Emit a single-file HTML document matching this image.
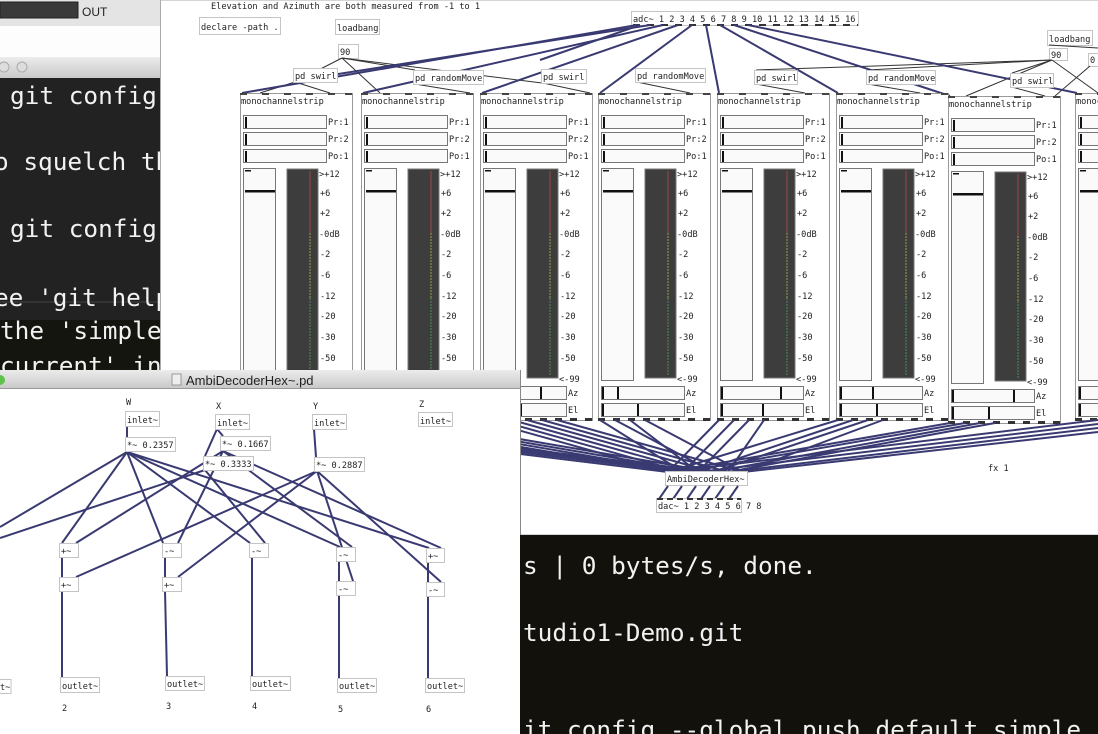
<!DOCTYPE html>
<html><head><meta charset="utf-8"><style>
html,body{margin:0;padding:0;background:#fff;}
svg{display:block}
.pd{font-family:"DejaVu Sans Mono","Liberation Mono",monospace;font-size:8.6px;fill:#222}
.term{font-family:"DejaVu Sans Mono","Liberation Mono",monospace;font-size:24.4px;fill:#f2f2f2}
.bx{fill:#fff;stroke:#c4c4c4;stroke-width:1}
.c{stroke:#3a3a72;stroke-width:2;fill:none}
.t{stroke:#333;stroke-width:1;fill:none}
</style></head><body>
<svg width="1098" height="734" viewBox="0 0 1098 734" xmlns="http://www.w3.org/2000/svg">
<defs>
<linearGradient id="tb" x1="0" y1="0" x2="0" y2="1"><stop offset="0" stop-color="#ececec"/><stop offset="1" stop-color="#c9c9c9"/></linearGradient>
<g id="sb">
<rect x="3.5" y="22.5" width="83" height="13" fill="#fafafa" stroke="#777"/>
<rect x="3.5" y="39.5" width="83" height="13" fill="#fafafa" stroke="#777"/>
<rect x="3.5" y="56.5" width="83" height="13" fill="#fafafa" stroke="#777"/>
<rect x="5" y="24" width="2" height="11" fill="#111"/><rect x="5" y="41" width="2" height="11" fill="#111"/><rect x="5" y="58" width="2" height="11" fill="#111"/>
<rect x="3.5" y="75.5" width="32" height="212" fill="#fafafa" stroke="#777"/>
<rect x="5" y="77" width="6" height="1.5" fill="#111"/>
<rect x="5" y="97" width="30" height="2.5" fill="#111"/>
<rect x="47" y="76" width="31" height="209" fill="#3d3d3d" stroke="#777"/>
<line x1="70" y1="78" x2="70" y2="140" stroke="#a04848" stroke-width="1"/>
<line x1="70" y1="140" x2="70" y2="205" stroke="#a09a48" stroke-width="1" stroke-dasharray="2,1"/>
<line x1="70" y1="205" x2="70" y2="283" stroke="#48905a" stroke-width="1" stroke-dasharray="2,1"/>
<rect x="3.5" y="293.5" width="83" height="13" fill="#fafafa" stroke="#777"/>
<rect x="3.5" y="310.5" width="83" height="13" fill="#fafafa" stroke="#777"/>
<rect x="4" y="294" width="2" height="12" fill="#111"/><rect x="4" y="311" width="2" height="12" fill="#111"/>
<g fill="#444"><rect x="0" y="0" width="7" height="2"/><rect x="22" y="0" width="7" height="2"/><rect x="44" y="0" width="7" height="2"/><rect x="66" y="0" width="7" height="2"/><rect x="88" y="0" width="7" height="2"/><rect x="105" y="0" width="7" height="2"/></g>
<g fill="#333"><rect x="0" y="325" width="7" height="3"/><rect x="15" y="325" width="7" height="3"/><rect x="30" y="325" width="7" height="3"/><rect x="45" y="325" width="7" height="3"/><rect x="60" y="325" width="7" height="3"/><rect x="75" y="325" width="7" height="3"/><rect x="90" y="325" width="7" height="3"/><rect x="105" y="325" width="7" height="3"/></g>
</g>
</defs>

<rect x="0" y="0" width="161" height="26" fill="#e4e4e4"/>
<rect x="0" y="2" width="78" height="16" fill="#3a3a3a" stroke="#222"/>
<text x="82" y="16" font-family="Liberation Sans,sans-serif" font-size="12" fill="#222">OUT</text>
<rect x="0" y="26" width="161" height="31" fill="#fdfdfd"/>
<rect x="0" y="57" width="161" height="21" fill="url(#tb)"/>
<circle cx="4" cy="67" r="5" fill="#ddd" stroke="#aaa"/><circle cx="22" cy="67" r="5" fill="#ddd" stroke="#aaa"/>
<rect x="0" y="78" width="161" height="292" fill="#222"/>
<rect x="0" y="320" width="161" height="50" fill="#151510"/>
<line x1="0" y1="302" x2="161" y2="302" stroke="#444"/>
<text class="term" x="10" y="104">git config</text>
<text class="term" x="-6" y="170">o squelch th</text>
<text class="term" x="10" y="237">git config</text>
<text class="term" x="-6" y="306">ee 'git help</text>
<text class="term" x="0" y="339">the 'simple</text>
<text class="term" x="0" y="374">current' ins</text>

<rect x="160.5" y="0" width="938" height="535" fill="#fff" stroke="#aaa"/>
<text class="pd" x="211" y="9">Elevation and Azimuth are both measured from -1 to 1</text>
<rect class="bx" x="199.5" y="17.5" width="81" height="17"/><text class="pd" x="201" y="30">declare -path .</text>
<rect class="bx" x="335.5" y="19.5" width="44" height="15"/><text class="pd" x="337" y="31">loadbang</text>
<rect class="bx" x="338.5" y="44.5" width="20" height="14"/><text class="pd" x="340" y="55">90</text>
<rect class="bx" x="631.5" y="11.5" width="227" height="14"/><text class="pd" x="633" y="22">adc~ 1 2 3 4 5 6 7 8 9 10 11 12 13 14 15 16</text>
<line x1="633" y1="25" x2="858" y2="25" stroke="#333" stroke-width="2" stroke-dasharray="7,7"/>
<rect class="bx" x="1047.5" y="30.5" width="45" height="15"/><text class="pd" x="1049" y="42">loadbang</text>
<rect class="bx" x="1049.5" y="48.5" width="18" height="12"/><text class="pd" x="1051" y="58">90</text>
<rect class="bx" x="1088.5" y="53.5" width="12" height="13"/><text class="pd" x="1090" y="63">0</text>

<g class="t">
<line x1="342" y1="58" x2="295" y2="82"/><line x1="342" y1="58" x2="380" y2="93"/><line x1="342" y1="58" x2="415" y2="70"/><line x1="342" y1="58" x2="542" y2="83"/>
<line x1="295" y1="82" x2="260" y2="93"/><line x1="295" y1="82" x2="330" y2="93"/>
<line x1="415" y1="84" x2="470" y2="93"/><line x1="543" y1="83" x2="590" y2="93"/>
<line x1="637" y1="82" x2="690" y2="93"/><line x1="756" y1="84" x2="805" y2="93"/>
<line x1="868" y1="84" x2="920" y2="93"/><line x1="1012" y1="87" x2="1045" y2="96"/>
<line x1="1052" y1="60" x2="1012" y2="73"/><line x1="1052" y1="60" x2="868" y2="70"/><line x1="1052" y1="60" x2="756" y2="70"/><line x1="1052" y1="60" x2="966" y2="96"/><line x1="1052" y1="60" x2="1098" y2="93"/>
<line x1="1090" y1="66" x2="1055" y2="96"/><line x1="1049" y1="45" x2="1098" y2="48"/>
</g>
<g class="c">
<line x1="637" y1="25" x2="242" y2="93"/><line x1="650" y1="25" x2="300" y2="80"/>
<line x1="663" y1="25" x2="363" y2="93"/><line x1="678" y1="25" x2="482" y2="93"/>
<line x1="692" y1="25" x2="600" y2="93"/><line x1="706" y1="25" x2="719" y2="93"/>
<line x1="720" y1="25" x2="838" y2="93"/><line x1="734" y1="25" x2="950" y2="96"/>
<line x1="748" y1="25" x2="1077" y2="93"/><line x1="640" y1="25" x2="540" y2="60"/>
</g>
<rect class="bx" x="293.5" y="68.5" width="44" height="14"/><text class="pd" x="295" y="79">pd swirl</text>
<rect class="bx" x="413.5" y="70.5" width="70" height="14"/><text class="pd" x="415" y="81">pd randomMove</text>
<rect class="bx" x="541.5" y="69.5" width="45" height="14"/><text class="pd" x="543" y="80">pd swirl</text>
<rect class="bx" x="635.5" y="68.5" width="70" height="14"/><text class="pd" x="637" y="79">pd randomMove</text>
<rect class="bx" x="754.5" y="70.5" width="43" height="14"/><text class="pd" x="756" y="81">pd swirl</text>
<rect class="bx" x="866.5" y="70.5" width="69" height="14"/><text class="pd" x="868" y="81">pd randomMove</text>
<rect class="bx" x="1010.5" y="73.5" width="43" height="14"/><text class="pd" x="1012" y="84">pd swirl</text>

<g transform="translate(240,93)"><rect x=".5" y=".5" width="112" height="327" fill="#fff" stroke="#999"/><use href="#sb"/>
<text class="pd"><tspan x="1" y="11">monochannelstrip</tspan><tspan x="88" y="32">Pr:1</tspan><tspan x="88" y="49">Pr:2</tspan><tspan x="88" y="66">Po:1</tspan><tspan x="79" y="84">&gt;+12</tspan><tspan x="80" y="103">+6</tspan><tspan x="80" y="123">+2</tspan><tspan x="79" y="144">-0dB</tspan><tspan x="80" y="164">-2</tspan><tspan x="80" y="185">-6</tspan><tspan x="80" y="206">-12</tspan><tspan x="80" y="226">-20</tspan><tspan x="80" y="247">-30</tspan><tspan x="80" y="268">-50</tspan><tspan x="79" y="289">&lt;-99</tspan><tspan x="88" y="303">Az</tspan><tspan x="88" y="320">El</tspan></text>
<rect x="10" y="294" width="2" height="12" fill="#111"/><rect x="10" y="311" width="2" height="12" fill="#111"/></g>
<g transform="translate(361,93)"><rect x=".5" y=".5" width="112" height="327" fill="#fff" stroke="#999"/><use href="#sb"/>
<text class="pd"><tspan x="1" y="11">monochannelstrip</tspan><tspan x="88" y="32">Pr:1</tspan><tspan x="88" y="49">Pr:2</tspan><tspan x="88" y="66">Po:1</tspan><tspan x="79" y="84">&gt;+12</tspan><tspan x="80" y="103">+6</tspan><tspan x="80" y="123">+2</tspan><tspan x="79" y="144">-0dB</tspan><tspan x="80" y="164">-2</tspan><tspan x="80" y="185">-6</tspan><tspan x="80" y="206">-12</tspan><tspan x="80" y="226">-20</tspan><tspan x="80" y="247">-30</tspan><tspan x="80" y="268">-50</tspan><tspan x="79" y="289">&lt;-99</tspan><tspan x="88" y="303">Az</tspan><tspan x="88" y="320">El</tspan></text>
<rect x="20" y="294" width="2" height="12" fill="#111"/><rect x="40" y="311" width="2" height="12" fill="#111"/></g>
<g transform="translate(480,93)"><rect x=".5" y=".5" width="112" height="327" fill="#fff" stroke="#999"/><use href="#sb"/>
<text class="pd"><tspan x="1" y="11">monochannelstrip</tspan><tspan x="88" y="32">Pr:1</tspan><tspan x="88" y="49">Pr:2</tspan><tspan x="88" y="66">Po:1</tspan><tspan x="79" y="84">&gt;+12</tspan><tspan x="80" y="103">+6</tspan><tspan x="80" y="123">+2</tspan><tspan x="79" y="144">-0dB</tspan><tspan x="80" y="164">-2</tspan><tspan x="80" y="185">-6</tspan><tspan x="80" y="206">-12</tspan><tspan x="80" y="226">-20</tspan><tspan x="80" y="247">-30</tspan><tspan x="80" y="268">-50</tspan><tspan x="79" y="289">&lt;-99</tspan><tspan x="88" y="303">Az</tspan><tspan x="88" y="320">El</tspan></text>
<rect x="60" y="294" width="2" height="12" fill="#111"/><rect x="40" y="311" width="2" height="12" fill="#111"/></g>
<g transform="translate(598,93)"><rect x=".5" y=".5" width="112" height="327" fill="#fff" stroke="#999"/><use href="#sb"/>
<text class="pd"><tspan x="1" y="11">monochannelstrip</tspan><tspan x="88" y="32">Pr:1</tspan><tspan x="88" y="49">Pr:2</tspan><tspan x="88" y="66">Po:1</tspan><tspan x="79" y="84">&gt;+12</tspan><tspan x="80" y="103">+6</tspan><tspan x="80" y="123">+2</tspan><tspan x="79" y="144">-0dB</tspan><tspan x="80" y="164">-2</tspan><tspan x="80" y="185">-6</tspan><tspan x="80" y="206">-12</tspan><tspan x="80" y="226">-20</tspan><tspan x="80" y="247">-30</tspan><tspan x="80" y="268">-50</tspan><tspan x="79" y="289">&lt;-99</tspan><tspan x="88" y="303">Az</tspan><tspan x="88" y="320">El</tspan></text>
<rect x="19" y="294" width="2" height="12" fill="#111"/><rect x="39" y="311" width="2" height="12" fill="#111"/></g>
<g transform="translate(717,93)"><rect x=".5" y=".5" width="112" height="327" fill="#fff" stroke="#999"/><use href="#sb"/>
<text class="pd"><tspan x="1" y="11">monochannelstrip</tspan><tspan x="88" y="32">Pr:1</tspan><tspan x="88" y="49">Pr:2</tspan><tspan x="88" y="66">Po:1</tspan><tspan x="79" y="84">&gt;+12</tspan><tspan x="80" y="103">+6</tspan><tspan x="80" y="123">+2</tspan><tspan x="79" y="144">-0dB</tspan><tspan x="80" y="164">-2</tspan><tspan x="80" y="185">-6</tspan><tspan x="80" y="206">-12</tspan><tspan x="80" y="226">-20</tspan><tspan x="80" y="247">-30</tspan><tspan x="80" y="268">-50</tspan><tspan x="79" y="289">&lt;-99</tspan><tspan x="88" y="303">Az</tspan><tspan x="88" y="320">El</tspan></text>
<rect x="63" y="294" width="2" height="12" fill="#111"/><rect x="45" y="311" width="2" height="12" fill="#111"/></g>
<g transform="translate(836,93)"><rect x=".5" y=".5" width="112" height="327" fill="#fff" stroke="#999"/><use href="#sb"/>
<text class="pd"><tspan x="1" y="11">monochannelstrip</tspan><tspan x="88" y="32">Pr:1</tspan><tspan x="88" y="49">Pr:2</tspan><tspan x="88" y="66">Po:1</tspan><tspan x="79" y="84">&gt;+12</tspan><tspan x="80" y="103">+6</tspan><tspan x="80" y="123">+2</tspan><tspan x="79" y="144">-0dB</tspan><tspan x="80" y="164">-2</tspan><tspan x="80" y="185">-6</tspan><tspan x="80" y="206">-12</tspan><tspan x="80" y="226">-20</tspan><tspan x="80" y="247">-30</tspan><tspan x="80" y="268">-50</tspan><tspan x="79" y="289">&lt;-99</tspan><tspan x="88" y="303">Az</tspan><tspan x="88" y="320">El</tspan></text>
<rect x="36" y="294" width="2" height="12" fill="#111"/><rect x="40" y="311" width="2" height="12" fill="#111"/></g>
<g transform="translate(948,96)"><rect x=".5" y=".5" width="112" height="327" fill="#fff" stroke="#999"/><use href="#sb"/>
<text class="pd"><tspan x="1" y="11">monochannelstrip</tspan><tspan x="88" y="32">Pr:1</tspan><tspan x="88" y="49">Pr:2</tspan><tspan x="88" y="66">Po:1</tspan><tspan x="79" y="84">&gt;+12</tspan><tspan x="80" y="103">+6</tspan><tspan x="80" y="123">+2</tspan><tspan x="79" y="144">-0dB</tspan><tspan x="80" y="164">-2</tspan><tspan x="80" y="185">-6</tspan><tspan x="80" y="206">-12</tspan><tspan x="80" y="226">-20</tspan><tspan x="80" y="247">-30</tspan><tspan x="80" y="268">-50</tspan><tspan x="79" y="289">&lt;-99</tspan><tspan x="88" y="303">Az</tspan><tspan x="88" y="320">El</tspan></text>
<rect x="65" y="294" width="2" height="12" fill="#111"/><rect x="40" y="311" width="2" height="12" fill="#111"/></g>
<g transform="translate(1075,93)"><rect x=".5" y=".5" width="112" height="327" fill="#fff" stroke="#999"/><use href="#sb"/>
<text class="pd"><tspan x="1" y="11">monochannelstrip</tspan></text></g>

<g class="c" stroke-width="1.6">
<line x1="242" y1="420" x2="668" y2="472"/><line x1="257" y1="420" x2="683" y2="472"/><line x1="272" y1="420" x2="698" y2="472"/><line x1="287" y1="420" x2="713" y2="472"/>
<line x1="363" y1="420" x2="668" y2="472"/><line x1="378" y1="420" x2="683" y2="472"/><line x1="393" y1="420" x2="698" y2="472"/><line x1="408" y1="420" x2="713" y2="472"/>
<line x1="482" y1="420" x2="668" y2="472"/><line x1="497" y1="420" x2="683" y2="472"/><line x1="512" y1="420" x2="698" y2="472"/><line x1="527" y1="420" x2="713" y2="472"/><line x1="542" y1="420" x2="728" y2="472"/><line x1="557" y1="420" x2="743" y2="472"/>
<line x1="600" y1="420" x2="683" y2="472"/><line x1="615" y1="420" x2="713" y2="472"/><line x1="630" y1="420" x2="698" y2="472"/><line x1="645" y1="420" x2="743" y2="472"/>
<line x1="719" y1="420" x2="668" y2="472"/><line x1="734" y1="420" x2="683" y2="472"/><line x1="749" y1="420" x2="698" y2="472"/><line x1="764" y1="420" x2="728" y2="472"/>
<line x1="838" y1="420" x2="668" y2="472"/><line x1="853" y1="420" x2="698" y2="472"/><line x1="868" y1="420" x2="713" y2="472"/><line x1="883" y1="420" x2="743" y2="472"/>
<line x1="950" y1="423" x2="668" y2="472"/><line x1="965" y1="423" x2="683" y2="472"/><line x1="980" y1="423" x2="713" y2="472"/><line x1="995" y1="423" x2="728" y2="472"/>
<line x1="1098" y1="420" x2="668" y2="472"/><line x1="1098" y1="424" x2="698" y2="472"/><line x1="1098" y1="428" x2="728" y2="472"/><line x1="1098" y1="432" x2="743" y2="472"/>
</g>
<rect class="bx" x="665.5" y="471.5" width="82" height="14"/><text class="pd" x="667" y="482">AmbiDecoderHex~</text>
<g class="c"><line x1="668" y1="486" x2="659" y2="499"/><line x1="682" y1="486" x2="673" y2="499"/><line x1="696" y1="486" x2="687" y2="499"/><line x1="710" y1="486" x2="701" y2="499"/><line x1="724" y1="486" x2="715" y2="499"/><line x1="738" y1="486" x2="729" y2="499"/></g>
<rect class="bx" x="656.5" y="498.5" width="85" height="14"/><text class="pd" x="658" y="509">dac~ 1 2 3 4 5 6 7 8</text>
<line x1="657" y1="499" x2="741" y2="499" stroke="#333" stroke-width="2" stroke-dasharray="6,4"/>
<text class="pd" x="988" y="471">fx 1</text>

<rect x="520" y="535" width="578" height="199" fill="#12110b"/>
<text class="term" x="523" y="574">s | 0 bytes/s, done.</text>
<text class="term" x="523" y="641">tudio1-Demo.git</text>
<text class="term" x="523" y="738">it config --global push.default simple</text>

<rect x="0" y="370" width="520" height="364" fill="#fff"/>
<rect x="0" y="370" width="520" height="18" fill="url(#tb)"/>
<line x1="0" y1="388.5" x2="520" y2="388.5" stroke="#999"/>
<circle cx="0" cy="380" r="5" fill="#5fc24a"/>
<rect x="172" y="374" width="9" height="11" fill="#eee" stroke="#999"/>
<text x="186" y="385" font-family="Liberation Sans,sans-serif" font-size="13" fill="#222">AmbiDecoderHex~.pd</text>
<line x1="520.5" y1="370" x2="520.5" y2="535" stroke="#888"/>
<g class="pd">
<text x="126" y="405">W</text><text x="216" y="409">X</text><text x="313" y="409">Y</text><text x="419" y="407">Z</text>
<text x="62" y="711">2</text><text x="166" y="709">3</text><text x="252" y="709">4</text><text x="338" y="712">5</text><text x="426" y="712">6</text>
</g>
<g class="c">
<line x1="127" y1="427" x2="127" y2="437"/><line x1="217" y1="429" x2="205" y2="456"/><line x1="217" y1="429" x2="223" y2="436"/><line x1="314" y1="429" x2="316" y2="457"/>
<line x1="127" y1="452" x2="0" y2="527"/><line x1="127" y1="452" x2="62" y2="543"/><line x1="127" y1="452" x2="163" y2="543"/><line x1="127" y1="452" x2="250" y2="543"/><line x1="127" y1="452" x2="340" y2="547"/><line x1="127" y1="452" x2="429" y2="548"/>
<line x1="205" y1="470" x2="0" y2="538"/><line x1="223" y1="451" x2="76" y2="543"/><line x1="223" y1="451" x2="178" y2="543"/><line x1="205" y1="470" x2="265" y2="543"/><line x1="223" y1="451" x2="352" y2="547"/><line x1="223" y1="451" x2="441" y2="548"/>
<line x1="317" y1="471" x2="76" y2="577"/><line x1="317" y1="471" x2="178" y2="577"/><line x1="317" y1="471" x2="353" y2="581"/><line x1="317" y1="471" x2="441" y2="582"/>
<line x1="62" y1="557" x2="62" y2="577"/><line x1="165" y1="557" x2="165" y2="577"/><line x1="339" y1="561" x2="339" y2="581"/><line x1="428" y1="562" x2="428" y2="582"/>
<line x1="62" y1="591" x2="62" y2="677"/><line x1="165" y1="591" x2="167" y2="676"/><line x1="252" y1="557" x2="252" y2="676"/><line x1="339" y1="595" x2="339" y2="678"/><line x1="428" y1="596" x2="428" y2="678"/>
</g>
<g>
<rect class="bx" x="125.5" y="411.5" width="34" height="15"/><rect class="bx" x="215.5" y="414.5" width="34" height="15"/><rect class="bx" x="312.5" y="414.5" width="34" height="15"/><rect class="bx" x="418.5" y="412.5" width="34" height="14"/>
<rect class="bx" x="125.5" y="437.5" width="50" height="14"/><rect class="bx" x="203.5" y="456.5" width="50" height="14"/><rect class="bx" x="220.5" y="436.5" width="50" height="14"/><rect class="bx" x="314.5" y="457.5" width="50" height="14"/>
<rect class="bx" x="59.5" y="543.5" width="19" height="14"/><rect class="bx" x="162.5" y="543.5" width="19" height="14"/><rect class="bx" x="249.5" y="543.5" width="19" height="14"/><rect class="bx" x="336.5" y="547.5" width="19" height="14"/><rect class="bx" x="426.5" y="548.5" width="18" height="14"/>
<rect class="bx" x="59.5" y="577.5" width="19" height="14"/><rect class="bx" x="162.5" y="577.5" width="19" height="14"/><rect class="bx" x="336.5" y="581.5" width="19" height="14"/><rect class="bx" x="426.5" y="582.5" width="18" height="14"/>
<rect class="bx" x="-1" y="679.5" width="12" height="14"/><rect class="bx" x="60.5" y="677.5" width="39" height="15"/><rect class="bx" x="165.5" y="676.5" width="39" height="14"/><rect class="bx" x="250.5" y="676.5" width="40" height="14"/><rect class="bx" x="337.5" y="678.5" width="39" height="14"/><rect class="bx" x="425.5" y="678.5" width="39" height="14"/>
</g>
<g class="pd">
<text x="127" y="423">inlet~</text><text x="217" y="426">inlet~</text><text x="314" y="426">inlet~</text><text x="420" y="424">inlet~</text>
<text x="127" y="448">*~ 0.2357</text><text x="205" y="467">*~ 0.3333</text><text x="222" y="447">*~ 0.1667</text><text x="316" y="468">*~ 0.2887</text>
<text x="61" y="554">+~</text><text x="164" y="554">-~</text><text x="251" y="554">-~</text><text x="338" y="558">-~</text><text x="428" y="559">+~</text>
<text x="61" y="588">+~</text><text x="164" y="588">+~</text><text x="338" y="592">-~</text><text x="428" y="593">-~</text>
<text x="0" y="690">t~</text><text x="62" y="689">outlet~</text><text x="167" y="687">outlet~</text><text x="252" y="687">outlet~</text><text x="339" y="689">outlet~</text><text x="427" y="689">outlet~</text>
</g>
</svg>
</body></html>
